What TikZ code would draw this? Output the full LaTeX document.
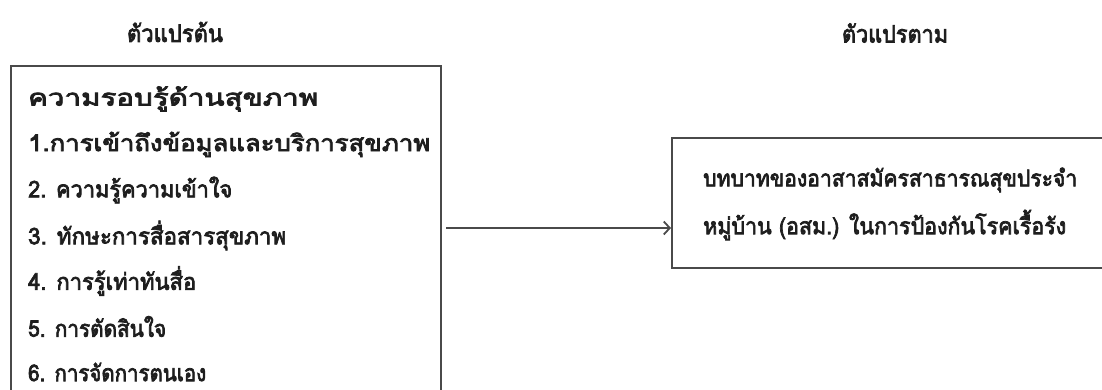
\documentclass[tikz,border=0pt]{standalone}
\usepackage{fontspec}
\usepackage{graphicx}
\newfontfamily\thaifont[Script=Thai, AutoFakeBold=3.2]{Loma}
\usetikzlibrary{arrows.meta}
\definecolor{frame}{HTML}{4A4A4A}
\definecolor{ink}{HTML}{1E1E1E}
% one line of text set to a given width, keeping its natural height
\newcommand{\fitline}[2]{\resizebox{#1}{\height}{#2}}
\tikzset{
  framebox/.style={draw=frame, line width=2.2pt, inner sep=0pt},
  head/.style={font=\thaifont\bfseries\fontsize{24}{28}\selectfont, text=ink, inner sep=0pt},
  item/.style={font=\thaifont\bfseries\fontsize{23}{27}\selectfont, text=ink, anchor=west, inner sep=0pt},
  link/.style={draw=frame, line width=1.8pt, -{Straight Barb[length=6pt,width=13pt,line width=1.8pt]}}
}
\begin{document}
\begin{tikzpicture}[x=1pt,y=-1pt]
  \useasboundingbox (0,0) rectangle (1102,390);
  \clip (0,0) rectangle (1102,390);
  \fill[white] (0,0) rectangle (1102,390);

  % column headings
  \node[head] (ivhead) at (175,32) {\fitline{96pt}{ตัวแปรต้น}};
  \node[head] (dvhead) at (895,33) {\fitline{106pt}{ตัวแปรตาม}};

  % independent variables
  \node[framebox, minimum width=430pt, minimum height=340pt, anchor=north west] (ivbox) at (10,65) {};
  \node[item] (iv0) at (28,99) {\fitline{290pt}{ความรอบรู้ด้านสุขภาพ}};
  \node[item] (iv1) at (28,144.5) {\fitline{402pt}{1.การเข้าถึงข้อมูลและบริการสุขภาพ}};
  \node[item] (iv2) at (28,190) {\fitline{204pt}{2. ความรู้ความเข้าใจ}};
  \node[item] (iv3) at (28,235.5) {\fitline{258pt}{3. ทักษะการสื่อสารสุขภาพ}};
  \node[item] (iv4) at (28,281) {\fitline{168pt}{4. การรู้เท่าทันสื่อ}};
  \node[item] (iv5) at (28,326.5) {\fitline{138pt}{5. การตัดสินใจ}};
  \node[item] (iv6) at (28,372) {\fitline{178pt}{6. การจัดการตนเอง}};

  % dependent variable
  \node[framebox, minimum width=450pt, minimum height=130pt, anchor=north west] (dvbox) at (671,137) {};
  \node[item] (dv1) at (703,180) {\fitline{374pt}{บทบาทของอาสาสมัครสาธารณสุขประจำ}};
  \node[item] (dv2) at (703,225) {\fitline{363pt}{หมู่บ้าน (อสม.) ในการป้องกันโรคเรื้อรัง}};

  % relation
  \coordinate (src) at ([xshift=4pt]ivbox.east |- 0,228);
  \draw[link] (src) -- (dvbox.west |- src);
\end{tikzpicture}
\end{document}
